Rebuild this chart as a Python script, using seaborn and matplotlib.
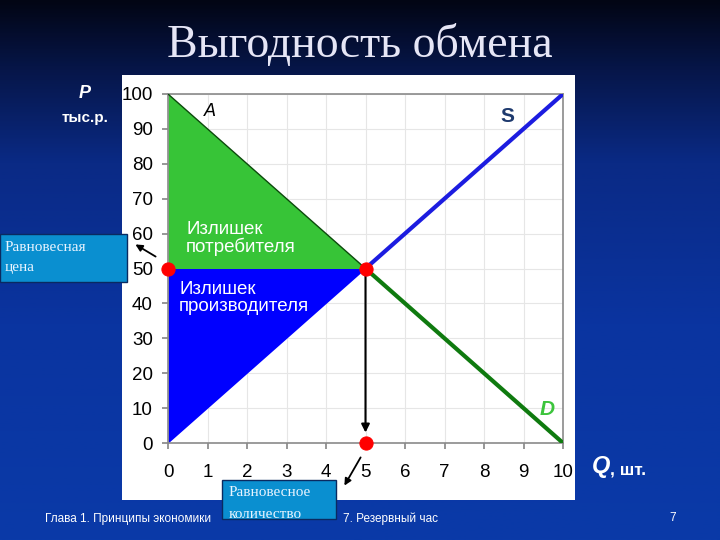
import numpy as np
import pandas as pd
import matplotlib
matplotlib.use("Agg")
import matplotlib.pyplot as plt
from matplotlib.patches import Rectangle, FancyArrowPatch
from matplotlib.colors import LinearSegmentedColormap
import seaborn as sns

# ---- data ----
quantity = [0, 10]
supply_price = [0, 100]
demand_price = [100, 0]
eq_q = 5
eq_p = 50
x_ticks = list(range(0, 11))
y_ticks = list(range(0, 101, 10))

sns.set_theme(style="white")
plt.rcParams['font.family'] = ['Liberation Sans', 'DejaVu Sans']

W, H = 720, 540
fig = plt.figure(figsize=(7.2, 5.4), dpi=100)

def fx(px):
    return px / W

def fy(py):
    return 1 - py / H

# background gradient
bg = fig.add_axes([0, 0, 1, 1])
bg.set_axis_off()
cmap = LinearSegmentedColormap.from_list(
    "bgc", [(0, "#020514"), (0.12, "#061546"), (0.3, "#0a2a85"), (0.6, "#0a34a0"), (1, "#0a3aa8")])
grad = np.linspace(0, 1, 256).reshape(-1, 1)
bg.imshow(grad, aspect="auto", cmap=cmap, extent=[0, 1, 0, 1], origin="upper")
bg.set_xlim(0, 1)
bg.set_ylim(0, 1)

# white panel
panel = fig.add_axes([fx(122), fy(500), fx(575) - fx(122), fy(75) - fy(500)])
panel.set_facecolor("white")
panel.set_xticks([])
panel.set_yticks([])
for s in panel.spines.values():
    s.set_visible(False)

# main axes
ax = fig.add_axes([fx(168), fy(443), fx(563) - fx(168), fy(94) - fy(443)])
ax.set_facecolor("white")

qs = np.array(quantity, dtype=float)
sp = np.array(supply_price, dtype=float)
dp = np.array(demand_price, dtype=float)

# surplus areas
ax.fill_between([qs[0], eq_q], [dp[0], eq_p], [eq_p, eq_p], color="#37c437", lw=0, zorder=2)
ax.fill_between([qs[0], eq_q], [sp[0], eq_p], [eq_p, eq_p], color="#0000ff", lw=0, zorder=2)

# thin upper part of demand curve
ax.plot([qs[0], eq_q], [dp[0], eq_p], color="#0b4a0b", lw=1, zorder=3)

df_s = pd.DataFrame({"Q": [eq_q, qs[1]], "P": [eq_p, sp[1]]})
df_d = pd.DataFrame({"Q": [eq_q, qs[1]], "P": [eq_p, dp[1]]})
sns.lineplot(data=df_s, x="Q", y="P", ax=ax, color="#1c1ce0", lw=3, zorder=4)
sns.lineplot(data=df_d, x="Q", y="P", ax=ax, color="#0f7a0f", lw=3, zorder=4)

# arrow down to equilibrium quantity
ax.annotate("", xy=(eq_q, 2.2), xytext=(eq_q, eq_p),
            arrowprops=dict(arrowstyle="-|>", color="black", lw=1.5, mutation_scale=12),
            zorder=5)

pts = pd.DataFrame({"Q": [0, eq_q, eq_q], "P": [eq_p, eq_p, 0]})
sns.scatterplot(data=pts, x="Q", y="P", ax=ax, color="#ff0000", s=90,
                edgecolor="#ff0000", zorder=6, clip_on=False)

ax.set_xlim(0, 10)
ax.set_ylim(0, 100)
ax.set_xticks(x_ticks)
ax.set_yticks(y_ticks)
ax.grid(True, color="#e6e6e6", lw=0.8)
ax.set_axisbelow(True)
for s in ax.spines.values():
    s.set_color("#8a8a8a")
    s.set_linewidth(1.2)
ax.tick_params(axis="both", which="both", length=4, color="#8a8a8a", labelsize=13.5,
               labelcolor="black", direction="out")
ax.tick_params(axis="x", pad=11, bottom=True)
ax.tick_params(axis="y", pad=7, left=True)
ax.set_xlabel("")
ax.set_ylabel("")

# labels within chart
ax.text(1.05, 95, "A", fontsize=13, style="italic", color="black", ha="center", va="center")
ax.text(8.6, 93.5, "S", fontsize=15, weight="bold", color="#1e3a6e", ha="center", va="center")
ax.text(9.6, 9.5, "D", fontsize=15, weight="bold", style="italic", color="#3cc43c",
        ha="center", va="center")
ax.text(0.46, 58.5, "Излишек\nпотребителя", fontsize=13.5, color="white", ha="left",
        va="center", linespacing=1.0, zorder=7)
ax.text(0.28, 41.5, "Излишек\nпроизводителя", fontsize=13.5, color="white", ha="left",
        va="center", linespacing=1.0, zorder=7)

# title & axis labels on slide
fig.text(0.5, fy(45), "Выгодность обмена", fontsize=33, family="Liberation Serif",
         color="#e6e6f6", ha="center", va="center")
fig.text(fx(85), fy(93), "P", fontsize=13, weight="bold", style="italic", color="white",
         ha="center", va="center")
fig.text(fx(85), fy(118), "тыс.р.", fontsize=11, weight="bold", color="white",
         ha="center", va="center")
fig.text(fx(592), fy(467), "Q", fontsize=17, weight="bold", style="italic", color="white",
         ha="left", va="center")
fig.text(fx(610), fy(470), ", шт.", fontsize=12.5, weight="bold", color="white",
         ha="left", va="center")

# footer
fig.text(fx(45), fy(519), "Глава 1. Принципы экономики", fontsize=8.5, color="white",
         ha="left", va="center")
fig.text(fx(343), fy(519), "7. Резервный час", fontsize=8.5, color="white",
         ha="left", va="center")
fig.text(fx(673), fy(518), "7", fontsize=8.5, color="white", ha="center", va="center")

# callout boxes
fig.patches.append(Rectangle((fx(0), fy(282)), fx(127), fy(234) - fy(282),
                             transform=fig.transFigure, fc="#0a8fd0", ec="#0a2a60",
                             lw=1, zorder=10))
fig.text(fx(5), fy(247), "Равновесная", fontsize=11, family="Liberation Serif",
         color="#e8f4ff", ha="left", va="center", zorder=11)
fig.text(fx(5), fy(268), "цена", fontsize=11, family="Liberation Serif",
         color="#e8f4ff", ha="left", va="center", zorder=11)

fig.patches.append(Rectangle((fx(222), fy(519)), fx(336) - fx(222), fy(480) - fy(519),
                             transform=fig.transFigure, fc="#0a8fd0", ec="#0a2a60",
                             lw=1, zorder=10))
fig.text(fx(229), fy(493), "Равновесное", fontsize=11, family="Liberation Serif",
         color="#e8f4ff", ha="left", va="center", zorder=11)
fig.text(fx(229), fy(514), "количество", fontsize=11, family="Liberation Serif",
         color="#e8f4ff", ha="left", va="center", zorder=11)

# callout arrows
fig.add_artist(FancyArrowPatch(
    (fx(158), fy(258)), (fx(133), fy(243)), transform=fig.transFigure,
    arrowstyle="-|>", mutation_scale=10, color="black", lw=1.3, zorder=12))
fig.add_artist(FancyArrowPatch(
    (fx(362), fy(455)), (fx(343), fy(488)), transform=fig.transFigure,
    arrowstyle="-|>", mutation_scale=10, color="black", lw=1.3, zorder=12))

fig.savefig("out.png", dpi=100)
